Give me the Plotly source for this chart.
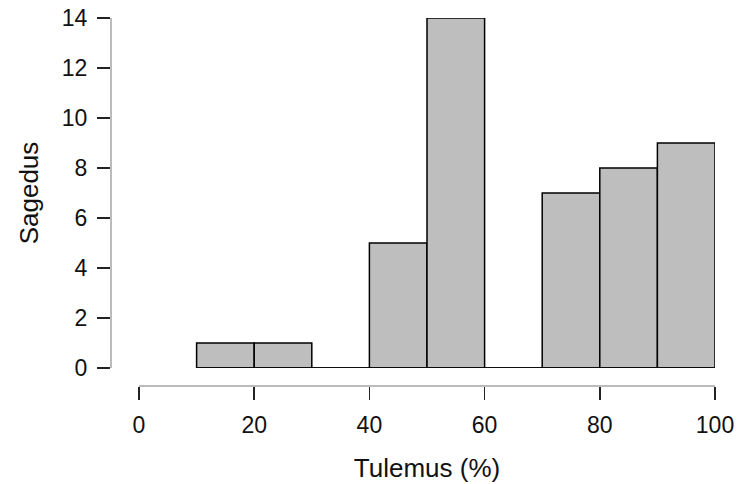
import plotly.graph_objects as go

bin_edges = [10, 20, 30, 40, 50, 60, 70, 80, 90, 100]
counts = [1, 1, 0, 5, 14, 0, 7, 8, 9]
x_ticks = [0, 20, 40, 60, 80, 100]
y_ticks = [0, 2, 4, 6, 8, 10, 12, 14]
x_label = "Tulemus (%)"
y_label = "Sagedus"

centers = [(a + b) / 2 for a, b in zip(bin_edges[:-1], bin_edges[1:])]
widths = [b - a for a, b in zip(bin_edges[:-1], bin_edges[1:])]

W, H = 740, 484
tick_font = dict(family="Liberation Sans, Arial, sans-serif", size=23, color="#111")
title_font = dict(family="Liberation Sans, Arial, sans-serif", size=26, color="#111")

fig = go.Figure()
fig.add_trace(go.Bar(
    x=centers, y=counts, width=widths,
    marker=dict(color="#bebebe", line=dict(color="#000", width=1.5)),
    cliponaxis=False, hoverinfo="skip",
))
fig.add_trace(go.Scatter(
    x=[bin_edges[0], bin_edges[-1]], y=[0, 0], mode="lines",
    line=dict(color="#000", width=1.5), cliponaxis=False, hoverinfo="skip",
))

fig.update_layout(
    width=W, height=H,
    margin=dict(l=0, r=0, t=0, b=0, autoexpand=False),
    paper_bgcolor="white", plot_bgcolor="white",
    showlegend=False, bargap=0,
    font=tick_font,
    xaxis=dict(
        domain=[139 / W, 715 / W], range=[0, 100],
        anchor="free", position=(H - 385) / H, automargin=False,
        tickvals=x_ticks, ticks="outside", ticklen=13, tickwidth=1.5, tickcolor="#222",
        tickfont=tick_font, ticklabeloverflow="allow",
        showline=True, linecolor="#bbbbbb", linewidth=1.5,
        showgrid=False, zeroline=False,
        title=dict(text=x_label, standoff=21, font=title_font),
        ticklabelstandoff=6,
    ),
    yaxis=dict(
        domain=[(H - 368) / H, (H - 18) / H], range=[0, 14],
        anchor="free", position=110 / W, automargin=False,
        tickvals=y_ticks, ticks="outside", ticklen=13, tickwidth=1.5, tickcolor="#222",
        tickfont=tick_font, ticklabeloverflow="allow",
        showline=True, linecolor="#bbbbbb", linewidth=1.5,
        showgrid=False, zeroline=False,
        title=dict(text=y_label, standoff=14, font=title_font),
        ticklabelstandoff=5,
    ),
)

fig.write_html(
    "out.html",
    config={"displayModeBar": False, "staticPlot": True},
    post_script="document.body.style.margin='0';document.body.style.overflow='hidden';",
)
